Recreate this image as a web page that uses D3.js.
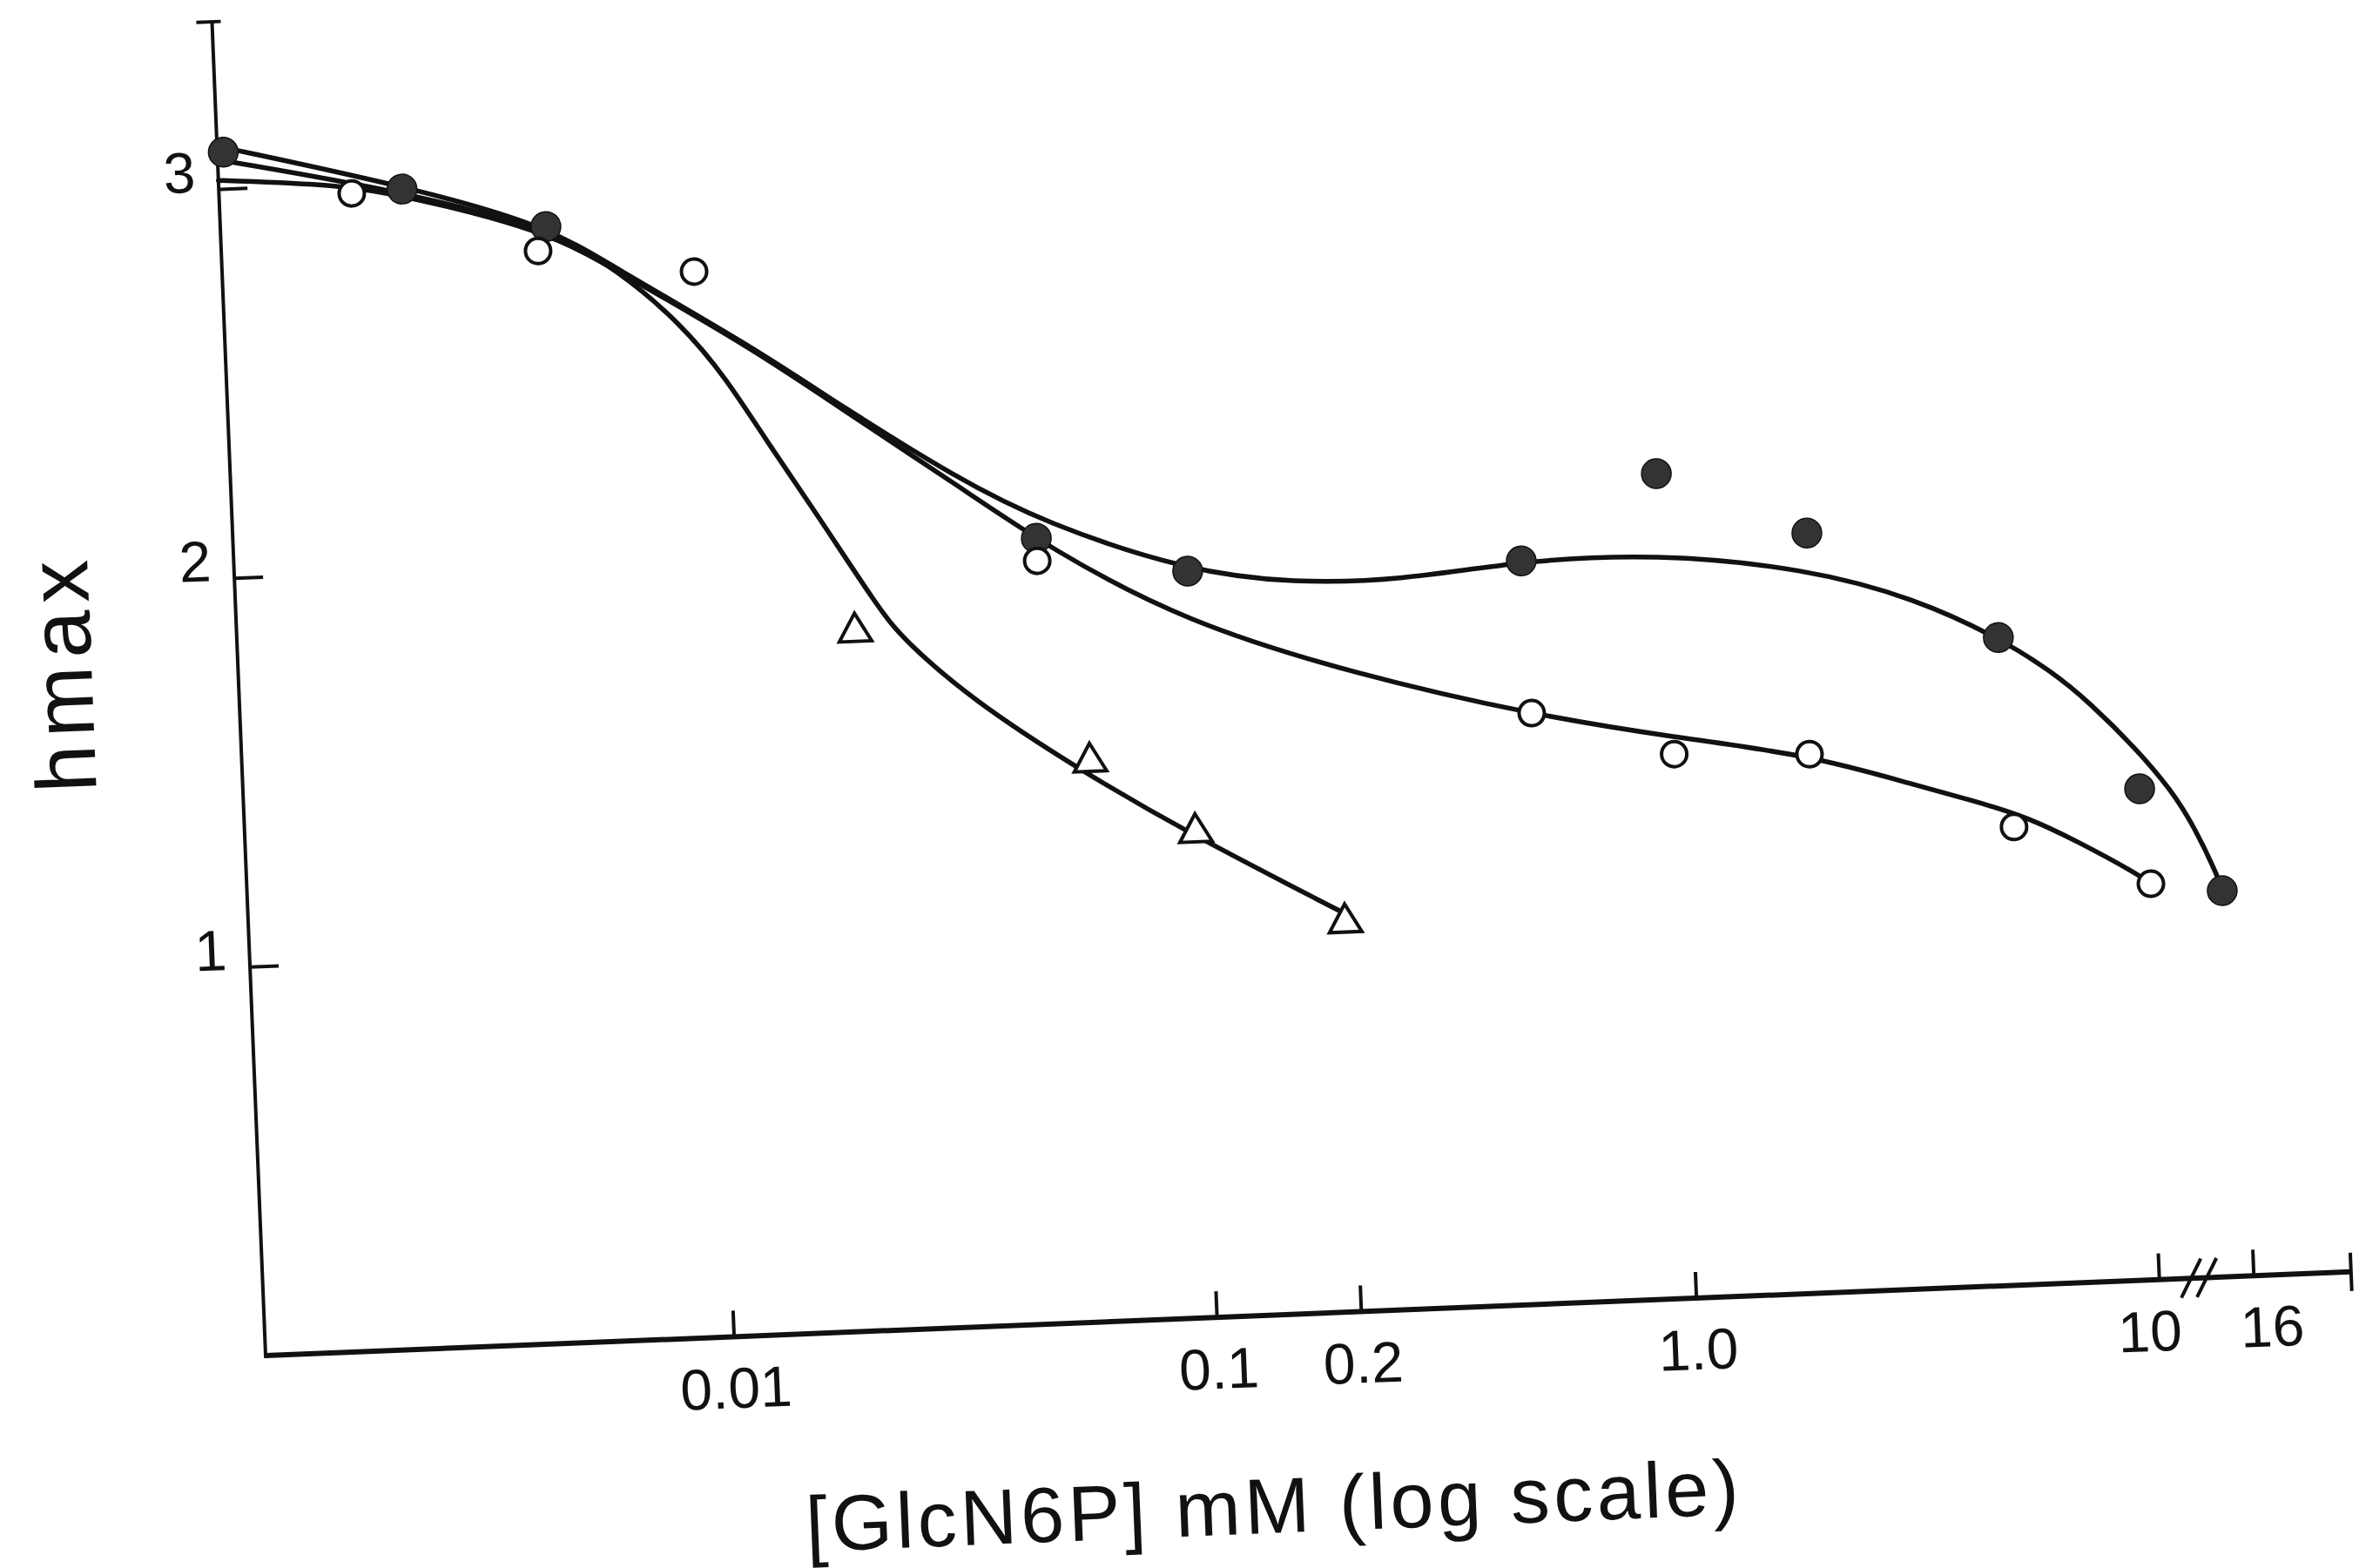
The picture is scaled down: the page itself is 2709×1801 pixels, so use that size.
<!DOCTYPE html>
<html><head><meta charset="utf-8">
<script src="https://cdn.jsdelivr.net/npm/d3@7"></script>
<style>body{margin:0;background:#fff}</style>
</head><body>
<svg id="chart" width="2709" height="1801"></svg>
<script>
// ---- data ----
const xTickValues = [0.01, 0.1, 0.2, 1, 10, 16];
const xTickLabels = ["0.01", "0.1", "0.2", "1.0", "10", "16"];
const yTickValues = [1, 2, 3];
const yTickLabels = ["1", "2", "3"];
const xAxisMin = 0.001, xAxisMax = 26, yAxisMax = 3.43, breakAt = 12.2;

// filled circles
const filledX = [0.00103, 0.00246, 0.00495, 0.0492, 0.1005, 0.4985, 0.969, 2.02, 5.12, 10.02, 14.8];
const filledY = [3.094, 2.981, 2.870, 2.019, 1.919, 1.911, 2.121, 1.953, 1.665, 1.262, 0.992];
// open circles
const openX = [0.00192, 0.00474, 0.01015, 0.0492, 0.509, 1.0, 1.958, 5.33, 10.4];
const openY = [2.975, 2.808, 2.739, 1.961, 1.519, 1.399, 1.385, 1.177, 1.017];
// triangles
const triX = [0.0204, 0.0609, 0.0993, 0.2];
const triY = [1.797, 1.439, 1.247, 1.0];

// hand-drawn fitted curves
const curveFilled = [[0.00104,3.105],[0.00246,2.99],[0.00495,2.875],[0.0070,2.751],[0.01336,2.536],[0.02,2.377],[0.03426,2.18],[0.051,2.059],[0.1005,1.919],[0.167,1.877],[0.277,1.873],[0.4985,1.911],[0.945,1.916],[2.006,1.862],[3.424,1.773],[5.12,1.665],[6.65,1.571],[7.96,1.488],[9.93,1.365],[11.7,1.257],[13.06,1.158],[14.53,1.028],[14.8,0.992]];
const curveOpen = [[0.001,3.022],[0.00181,2.999],[0.00246,2.965],[0.00495,2.86],[0.0070,2.747],[0.01336,2.531],[0.02,2.37],[0.03421,2.162],[0.0529,1.987],[0.0983,1.789],[0.2189,1.638],[0.5088,1.515],[1.005,1.442],[1.958,1.383],[3.30,1.294],[4.39,1.248],[5.68,1.202],[7.32,1.132],[9.68,1.046],[10.4,1.017]];
const curveTri = [[0.00104,3.071],[0.00246,2.975],[0.00495,2.865],[0.0070,2.751],[0.00946,2.604],[0.01155,2.465],[0.014,2.289],[0.01705,2.121],[0.023,1.852],[0.02558,1.774],[0.0351,1.611],[0.0577,1.421],[0.0945,1.251],[0.1964,1.029]];

// ---- drawing ----
const FONT = "'Liberation Sans', Arial, sans-serif";
const INK = "#111";
const svg = d3.select("#chart");
svg.append("rect").attr("width", 2709).attr("height", 1801).attr("fill", "#fff");

// the scanned figure is slightly rotated
const g = svg.append("g").attr("transform", "translate(305,1557) rotate(-2.3)");

const x = d3.scaleLog().domain([0.001, 0.01, 0.1, 1, 10]).range([0, 538, 1093, 1644, 2176]);
const y = d3.scaleLinear().domain([0, 3]).range([0, -1341]);

// axis lines
g.append("line").attr("x1", x(xAxisMin)).attr("x2", x(xAxisMax)).attr("y1", 0).attr("y2", 0)
  .attr("stroke", INK).attr("stroke-width", 6);
g.append("line").attr("x1", 0).attr("x2", 0).attr("y1", 3).attr("y2", y(yAxisMax))
  .attr("stroke", INK).attr("stroke-width", 4);
g.append("line").attr("x1", -18).attr("x2", 10).attr("y1", y(yAxisMax)).attr("y2", y(yAxisMax))
  .attr("stroke", INK).attr("stroke-width", 4);
g.append("line").attr("x1", x(xAxisMax)).attr("x2", x(xAxisMax)).attr("y1", -22).attr("y2", 22)
  .attr("stroke", INK).attr("stroke-width", 4);
// axis break marks
[-9, 9].forEach(off => {
  g.append("line")
    .attr("x1", x(breakAt) + off + 12).attr("y1", -22)
    .attr("x2", x(breakAt) + off - 12).attr("y2", 22)
    .attr("stroke", INK).attr("stroke-width", 4);
});

// x axis ticks
const xAxis = d3.axisBottom(x).tickValues(xTickValues)
  .tickFormat((d, i) => xTickLabels[i]).tickSize(-30).tickPadding(35);
const gx = g.append("g").call(xAxis);
gx.select(".domain").remove();
gx.selectAll(".tick line").attr("stroke", INK).attr("stroke-width", 4);
gx.selectAll(".tick text").attr("font-family", FONT).attr("font-size", 66).attr("fill", INK)
  .attr("dx", d => d === 10 ? -13 : (d === 16 ? 19 : 0));

// y axis ticks
const yAxis = d3.axisLeft(y).tickValues(yTickValues)
  .tickFormat((d, i) => yTickLabels[i]).tickSize(-33).tickPadding(26);
const gy = g.append("g").call(yAxis);
gy.select(".domain").remove();
gy.selectAll(".tick line").attr("stroke", INK).attr("stroke-width", 4);
gy.selectAll(".tick text").attr("font-family", FONT).attr("font-size", 66).attr("fill", INK)
  .attr("y", -19);

// curves
const line = d3.line().x(d => x(d[0])).y(d => y(d[1])).curve(d3.curveBasis);
[curveFilled, curveOpen, curveTri].forEach(c => {
  g.append("path").attr("d", line(c)).attr("fill", "none").attr("stroke", INK)
    .attr("stroke-width", 5.5).attr("stroke-linecap", "round");
});

// markers
g.selectAll(".filled").data(filledX.map((v, i) => [v, filledY[i]])).join("circle")
  .attr("class", "filled").attr("cx", d => x(d[0])).attr("cy", d => y(d[1])).attr("r", 17)
  .attr("fill", "#333").attr("stroke", INK).attr("stroke-width", 1.5);
g.selectAll(".open").data(openX.map((v, i) => [v, openY[i]])).join("circle")
  .attr("class", "open").attr("cx", d => x(d[0])).attr("cy", d => y(d[1])).attr("r", 14.5)
  .attr("fill", "#fff").attr("stroke", INK).attr("stroke-width", 4);
const tri = d3.symbol().type(d3.symbolTriangle).size(600);
g.selectAll(".tri").data(triX.map((v, i) => [v, triY[i]])).join("path")
  .attr("class", "tri").attr("d", tri)
  .attr("transform", d => `translate(${x(d[0])},${y(d[1])})`)
  .attr("fill", "#fff").attr("stroke", INK).attr("stroke-width", 4).attr("stroke-linejoin", "miter");

// axis titles
g.append("text").attr("transform", "translate(-168,-793) rotate(-90)")
  .attr("text-anchor", "middle").attr("font-family", FONT).attr("font-size", 98)
  .attr("letter-spacing", 9).attr("fill", INK).text("hmax");
g.append("text").attr("x", 1148).attr("y", 250)
  .attr("text-anchor", "middle").attr("font-family", FONT).attr("font-size", 90)
  .attr("textLength", 1072).attr("lengthAdjust", "spacing").attr("fill", INK)
  .text("[GlcN6P] mM (log scale)");
</script>
</body></html>
